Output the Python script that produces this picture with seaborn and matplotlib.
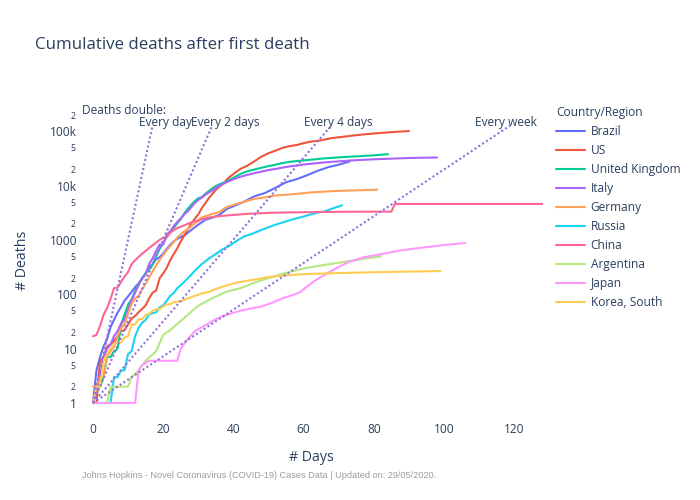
import numpy as np
import pandas as pd
import matplotlib.pyplot as plt
import seaborn as sns
from matplotlib.ticker import FixedLocator, FixedFormatter

# --- data (days since first death, cumulative deaths) ---
countries = ['Brazil', 'US', 'United Kingdom', 'Italy', 'Germany', 'Russia',
             'China', 'Argentina', 'Japan', 'Korea, South']
colors = ['#636efa', '#EF553B', '#00cc96', '#ab63fa', '#FFA15A', '#19d3f3',
          '#FF6692', '#B6E880', '#FF97FF', '#FECB52']

brazil_days = list(range(0, 25)) + [26, 28, 30, 32, 34, 36, 38, 40, 43, 46, 49, 52, 55, 58, 61, 64, 67, 70, 73]
brazil_deaths = [1, 4, 7, 11, 15, 25, 34, 46, 59, 77, 92, 111, 136, 159, 201, 240, 324, 359, 445, 486,
                 564, 686, 819, 950, 1057, 1223, 1532, 1924, 2361, 2588, 2906, 3704, 4205, 5083, 6412,
                 7367, 9190, 11653, 13240, 15662, 18859, 22013, 24512, 27878]

us_days = list(range(0, 41)) + [42, 44, 46, 48, 50, 52, 54, 56, 58, 60, 62, 65, 68, 71, 74, 77, 80, 83, 86, 90]
us_deaths = [1, 1, 6, 7, 11, 12, 14, 17, 21, 22, 28, 36, 40, 47, 54, 63, 85, 108, 118, 200, 244, 307,
             427, 552, 706, 942, 1209, 1581, 2026, 2467, 2978, 3873, 4757, 5926, 7087, 8407, 9619,
             10783, 12722, 14695, 16478, 20463, 23529, 28326, 34500, 39800, 44444, 49954, 53755,
             56259, 60967, 64943, 68900, 75600, 79500, 84100, 88200, 91900, 95000, 98200, 102100]

uk_days = list(range(0, 37)) + [38, 40, 42, 44, 46, 48, 50, 52, 54, 56, 59, 62, 65, 68, 71, 74, 77, 80, 84]
uk_deaths = [1, 2, 2, 3, 7, 7, 9, 10, 28, 43, 65, 81, 115, 158, 194, 250, 285, 359, 508, 694, 877,
             1162, 1456, 1672, 2046, 2429, 3100, 3752, 4467, 5225, 5879, 6159, 7111, 7993, 8974,
             9892, 10629, 11866, 14073, 16500, 18500, 20000, 21500, 23000, 24500, 26300, 27600,
             29000, 30200, 31600, 32700, 33700, 34600, 35400, 36400, 38200]

italy_days = list(range(0, 37)) + [38, 40, 42, 44, 46, 48, 50, 52, 54, 56, 58, 60, 65, 70, 75, 80, 85, 90, 98]
italy_deaths = [1, 2, 3, 7, 10, 12, 17, 21, 29, 34, 52, 79, 107, 148, 197, 233, 366, 463, 631, 827,
                827, 1266, 1441, 1809, 2158, 2503, 2978, 3405, 4032, 4825, 5476, 6077, 6820, 7503,
                8215, 9134, 10023, 11591, 13155, 14681, 15887, 17127, 18279, 19468, 20465, 21645,
                22745, 23660, 24648, 26644, 28236, 29684, 30739, 31610, 32486, 33229]

germany_days = list(range(0, 33)) + [34, 36, 38, 40, 42, 44, 46, 48, 50, 52, 57, 62, 67, 72, 77, 81]
germany_deaths = [2, 2, 3, 3, 7, 9, 11, 17, 24, 28, 44, 67, 84, 94, 123, 157, 206, 267, 342, 433,
                  533, 645, 775, 920, 1107, 1275, 1444, 1584, 1810, 2016, 2349, 2607, 2767, 3022,
                  3294, 4052, 4459, 4862, 5279, 5760, 5976, 6314, 6623, 6993, 7549, 7897, 8144,
                  8302, 8500]

russia_days = [0] + list(range(5, 32)) + [33, 35, 37, 39, 41, 43, 45, 48, 51, 54, 57, 60, 63, 66, 69, 71]
russia_deaths = [1, 1, 3, 3, 4, 4, 8, 9, 17, 24, 30, 34, 43, 45, 47, 58, 63, 76, 94, 106, 130, 148,
                 170, 198, 232, 273, 313, 361, 456, 555, 681, 794, 972, 1169, 1280, 1537, 1827,
                 2116, 2418, 2722, 3099, 3388, 3968, 4374]

china_days = list(range(0, 32)) + [33, 35, 38, 41, 45, 50, 55, 60, 65, 70, 75, 80, 85, 86, 128]
china_deaths = [17, 18, 26, 42, 56, 82, 131, 133, 171, 213, 259, 361, 425, 490, 562, 632, 717, 804,
                904, 1011, 1111, 1116, 1368, 1520, 1662, 1765, 1863, 2002, 2114, 2236, 2236, 2441,
                2595, 2715, 2837, 2946, 3070, 3172, 3230, 3261, 3296, 3312, 3333, 3339, 3342,
                4636, 4634]

argentina_days = [0, 4, 5, 10, 11, 13, 15, 18, 20, 22, 26, 30, 34, 38, 42, 46, 50, 54, 60, 66, 72, 77, 82]
argentina_deaths = [1, 1, 2, 2, 3, 4, 6, 9, 18, 22, 37, 62, 85, 112, 130, 165, 200, 240, 300, 350,
                    400, 450, 500]

japan_days = [0, 12, 13, 14, 16, 24, 25, 27, 29, 32, 35, 38, 42, 45, 48, 51, 54, 57, 59, 61, 63,
              66, 70, 73, 77, 82, 88, 94, 100, 106]
japan_deaths = [1, 1, 4, 5, 6, 6, 10, 15, 21, 27, 35, 42, 50, 55, 60, 70, 85, 98, 110, 140, 175,
                230, 320, 400, 480, 550, 650, 730, 810, 885]

korea_days = list(range(0, 24)) + [25, 27, 29, 31, 33, 35, 37, 39, 41, 43, 45, 47, 50, 55, 60, 65, 70, 80, 90, 99]
korea_deaths = [1, 2, 2, 6, 8, 10, 12, 13, 13, 16, 17, 28, 28, 35, 35, 42, 44, 50, 53, 54, 60, 66,
                66, 72, 75, 84, 94, 104, 111, 126, 139, 152, 165, 174, 183, 192, 208, 225, 236,
                242, 247, 256, 263, 269]

# doubling reference lines: start at 1 death, run for 17 doublings
double_every = [1, 2, 4, 7]
double_labels = ['Every day', 'Every 2 days', 'Every 4 days', 'Every week']
n_doublings = 17
label_days = [20.6, 37.8, 69.8, 117.7]

series = [(brazil_days, brazil_deaths), (us_days, us_deaths), (uk_days, uk_deaths),
          (italy_days, italy_deaths), (germany_days, germany_deaths), (russia_days, russia_deaths),
          (china_days, china_deaths), (argentina_days, argentina_deaths),
          (japan_days, japan_deaths), (korea_days, korea_deaths)]

df = pd.concat([pd.DataFrame({'Days': d, 'Deaths': v, 'Country/Region': c})
                for c, (d, v) in zip(countries, series)], ignore_index=True)

# --- style ---
sns.set_theme(style="white")
plt.rcParams['font.family'] = ['Open Sans', 'DejaVu Sans']
text_color = '#2a3f5f'

fig = plt.figure(figsize=(7, 5), dpi=100)
ax = fig.add_axes([80 / 700, 80 / 500, 463 / 700, 320 / 500])

sns.lineplot(data=df, x='Days', y='Deaths', hue='Country/Region', hue_order=countries,
             palette=colors, estimator=None, linewidth=1.5, ax=ax)

for d in double_every:
    ax.plot([0, n_doublings * d], [1, 2 ** n_doublings], color='#9370db', lw=1.5,
            ls=(0, (1, 1.2)), label='_nolegend_', zorder=5)

ax.set_yscale('log')
ax.set_xlim(-3.7, 128.2)
ax.set_ylim(10 ** -0.313, 10 ** 5.58)

# y ticks: decades plus the small "2" and "5" labels
ax.yaxis.set_major_locator(FixedLocator([1, 10, 100, 1000, 1e4, 1e5]))
ax.yaxis.set_major_formatter(FixedFormatter(['1', '10', '100', '1000', '10k', '100k']))
minor_vals = [2, 5, 20, 50, 200, 500, 2000, 5000, 2e4, 5e4, 2e5]
ax.yaxis.set_minor_locator(FixedLocator(minor_vals))
ax.yaxis.set_minor_formatter(FixedFormatter(['2', '5'] * 5 + ['2']))
ax.set_xticks([0, 20, 40, 60, 80, 100, 120])

ax.tick_params(axis='both', which='both', length=0, colors=text_color, labelsize=8.6, pad=2)
ax.tick_params(axis='y', which='minor', labelsize=6.3, pad=3)
ax.grid(False)
for s in ax.spines.values():
    s.set_visible(False)

ax.set_xlabel('# Days', fontsize=10.2, color=text_color)
ax.xaxis.set_label_coords(0.5, (420 - 450) / 320)
ax.set_ylabel('# Deaths', fontsize=10.2, color=text_color)
ax.yaxis.set_label_coords((30 - 80) / 463, 0.5)

# annotations for the doubling lines
ax.text(-3.1, 2.4e5, 'Deaths double:', ha='left', va='center', fontsize=8.6, color=text_color)
for x, lab in zip(label_days, double_labels):
    ax.text(x, 1.45e5, lab, ha='center', va='center', fontsize=8.6, color=text_color)

# legend
sns.move_legend(ax, 'upper left', bbox_to_anchor=(556 / 700, 1 - 106 / 500),
                bbox_transform=fig.transFigure, frameon=False, fontsize=8.6,
                title_fontsize=8.6, handlelength=2.45, handletextpad=0.45,
                labelspacing=0.5, borderpad=0, borderaxespad=0, alignment='left',
                labelcolor=text_color)
leg = ax.get_legend()
leg.get_title().set_color(text_color)
for h in leg.legend_handles:
    h.set_linewidth(1.5)

fig.text(35 / 700, 1 - 45 / 500, 'Cumulative deaths after first death', fontsize=12.2,
         ha='left', va='center', color=text_color)
fig.text(82 / 700, 1 - 476 / 500,
         'Johns Hopkins - Novel Coronavirus (COVID-19) Cases Data | Updated on: 29/05/2020.',
         fontsize=6.6, ha='left', va='center', color='#9c9c9c', family='Liberation Sans')

fig.savefig('out.png', dpi=100)
